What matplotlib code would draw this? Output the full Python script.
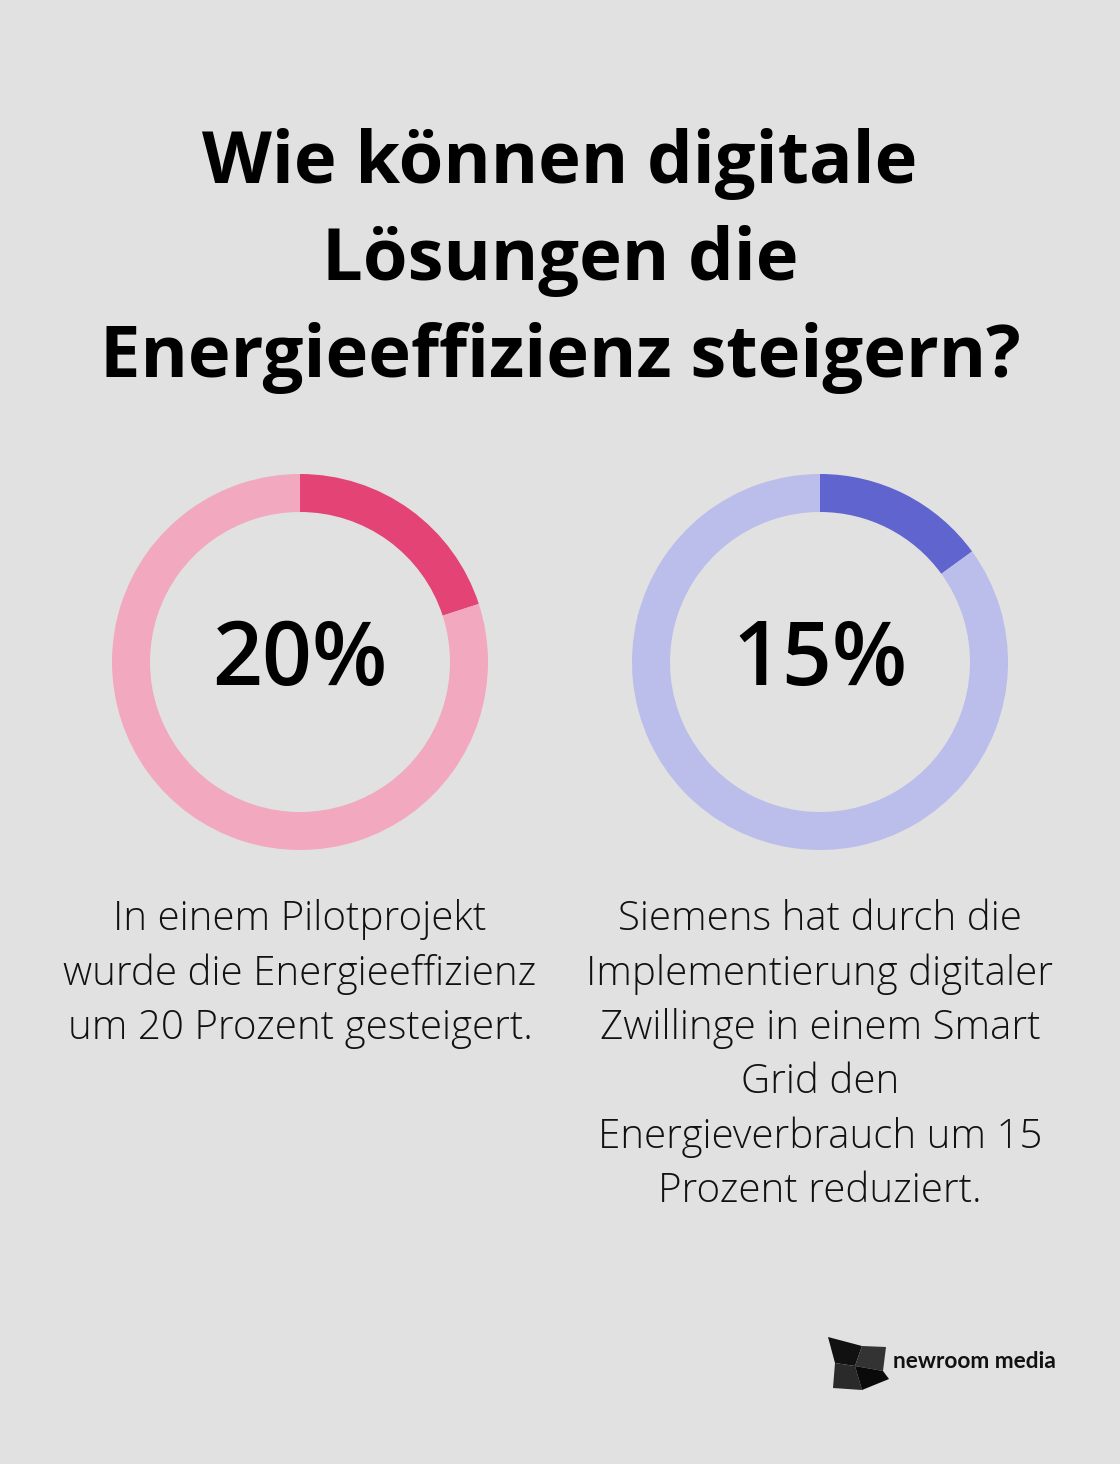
import matplotlib.pyplot as plt
from matplotlib.patches import Polygon

title = "Wie können digitale\nLösungen die\nEnergieeffizienz steigern?"
percent_values = [20, 15]
percent_labels = ["20%", "15%"]
descriptions = [
    "In einem Pilotprojekt\nwurde die Energieeffizienz\num 20 Prozent gesteigert.",
    "Siemens hat durch die\nImplementierung digitaler\nZwillinge in einem Smart\nGrid den\nEnergieverbrauch um 15\nProzent reduziert.",
]
dark_colors = ["#E44375", "#5F64CF"]
light_colors = ["#F2A8BE", "#BBBDEA"]
bg = "#E0E1E0"

W, H = 1120, 1464
fig = plt.figure(figsize=(W / 100, H / 100), dpi=100, facecolor=bg)

fig.text(0.5, 1 - 261 / H, title, ha="center", va="center", fontsize=52,
         fontweight="bold", family="Open Sans", linespacing=1.46, color="#000000")

centers_x = [300, 820]
cy = 662
r = 188
for i, cx in enumerate(centers_x):
    ax = fig.add_axes([(cx - r) / W, (H - cy - r) / H, 2 * r / W, 2 * r / H])
    ax.set_facecolor("none")
    v = percent_values[i]
    ax.pie([v, 100 - v], colors=[dark_colors[i], light_colors[i]], startangle=90,
           counterclock=False, radius=1, wedgeprops=dict(width=38 / r, linewidth=0))
    ax.set_xlim(-1, 1)
    ax.set_ylim(-1, 1)
    ax.set_aspect("equal")
    ax.axis("off")
    ax.text(0, 0, percent_labels[i], ha="center", va="center", fontsize=63,
            family="Open Sans", fontweight="semibold", color="#000000")
    fig.text(cx / W, 1 - 899 / H, descriptions[i], ha="center", va="top",
             fontsize=29, family="Open Sans", fontweight="light",
             linespacing=1.42, color="#111111")

# logo
lax = fig.add_axes([0, 0, 1, 1])
lax.set_xlim(0, W)
lax.set_ylim(H, 0)
lax.axis("off")
lax.patch.set_alpha(0)
shapes = [
    ([(828, 1337), (862, 1346), (855, 1366), (835, 1363)], "#111111"),
    ([(862, 1346), (886, 1347), (883, 1371), (855, 1366)], "#333333"),
    ([(835, 1363), (855, 1366), (862, 1390), (833, 1388)], "#2a2a2a"),
    ([(855, 1366), (883, 1371), (889, 1379), (862, 1390)], "#0a0a0a"),
]
for pts, c in shapes:
    lax.add_patch(Polygon(pts, closed=True, facecolor=c, edgecolor="none"))
lax.text(893, 1362, "newroom media", ha="left", va="center", fontsize=16.3,
         family="Lato", fontweight="bold", color="#111111")

fig.savefig("out.png", dpi=100, facecolor=bg)
